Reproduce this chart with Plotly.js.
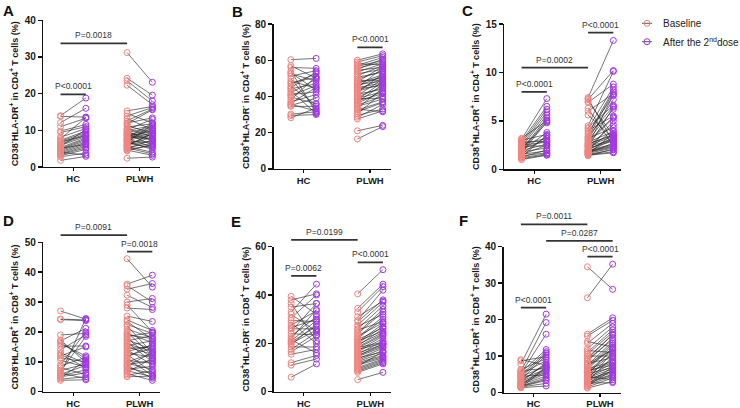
<!DOCTYPE html>
<html>
<head>
<meta charset="utf-8">
<script src="https://cdn.plot.ly/plotly-3.0.1.min.js"></script>
<style>html,body{margin:0;padding:0;background:#fff;}#chart{width:740px;height:408px;}</style>
</head>
<body>
<div id="chart"></div>
<script>
// ---------------- DATA ----------------
const groups = ['HC', 'PLWH'];
const legendLabels = ['Baseline', 'After the 2<sup>nd</sup>dose'];

// Panel A: CD38-HLA-DR+ in CD4+ T cells (%)
const A_HC_baseline = [14.0, 13.8, 12.1, 11.0, 9.8, 9.4, 8.1, 7.7, 7.3, 7.0, 6.6, 6.2, 5.9, 5.6, 5.3, 5.0, 4.8, 4.5, 4.2, 3.9, 3.6, 3.4, 3.1, 2.8, 6.9, 5.1, 4.0, 1.8];
const A_HC_after = [18.8, 13.6, 16.0, 13.3, 11.6, 11.0, 10.5, 13.5, 9.8, 9.4, 9.0, 8.7, 8.3, 10.2, 7.9, 7.6, 7.2, 6.8, 6.4, 6.0, 5.6, 5.2, 4.8, 3.8, 8.5, 6.2, 3.3, 2.9];
const A_PLWH_baseline = [31.2, 24.2, 23.5, 22.3, 15.3, 14.6, 13.9, 13.2, 12.6, 12.0, 11.4, 10.9, 10.4, 10.0, 9.7, 9.4, 9.1, 8.8, 8.5, 8.2, 7.9, 7.7, 7.5, 7.2, 7.0, 6.8, 6.6, 6.3, 6.1, 5.9, 5.6, 5.4, 5.2, 5.0, 4.8, 4.6, 4.4, 2.4, 8.0, 9.0, 11.8, 6.9, 5.8, 7.4, 10.2, 8.6];
const A_PLWH_after = [23.1, 19.6, 18.0, 17.0, 16.5, 12.0, 16.2, 10.2, 15.8, 13.4, 9.0, 11.8, 8.4, 11.2, 7.2, 10.8, 6.0, 10.4, 9.8, 7.6, 12.0, 5.5, 9.4, 8.8, 6.8, 11.5, 5.2, 8.0, 7.0, 9.2, 4.0, 6.4, 3.6, 7.4, 5.8, 3.2, 6.2, 2.7, 10.0, 8.6, 15.6, 4.8, 9.0, 10.6, 13.0, 7.8];
const A_yTicks = [0, 10, 20, 30, 40];
const A_pLabels = ['P<0.0001', 'P=0.0018'];
const A_pFrom = ['HC baseline', 'HC baseline'];
const A_pTo = ['HC after', 'PLWH baseline'];
const A_pY = [19.8, 33.7];

// Panel B: CD38+HLA-DR- in CD4+ T cells (%)
const B_HC_baseline = [60.3, 57.0, 56.0, 54.2, 52.5, 51.2, 49.8, 48.5, 46.8, 45.5, 44.2, 43.0, 42.0, 41.0, 39.6, 38.2, 37.0, 36.2, 35.6, 35.0, 34.5, 30.2, 29.4, 28.2, 47.5, 53.0, 40.5, 44.8];
const B_HC_after = [61.0, 50.0, 55.5, 31.0, 48.5, 54.2, 33.0, 44.5, 52.5, 35.5, 47.0, 30.5, 49.5, 42.5, 36.0, 51.0, 41.0, 45.0, 32.0, 39.0, 34.5, 31.5, 30.0, 33.5, 50.5, 43.5, 46.0, 53.5];
const B_PLWH_baseline = [60.0, 59.0, 58.0, 57.2, 56.5, 55.5, 54.5, 53.5, 52.5, 51.5, 50.5, 49.5, 48.8, 48.0, 47.2, 46.5, 45.8, 45.0, 44.2, 43.5, 42.8, 42.0, 41.2, 40.5, 39.8, 39.0, 38.2, 37.5, 36.8, 36.0, 35.2, 34.5, 33.5, 32.5, 31.5, 30.5, 29.5, 28.5, 27.5, 21.0, 16.5, 55.0, 47.5, 44.8, 38.8, 33.0];
const B_PLWH_after = [63.5, 62.5, 57.5, 61.5, 60.0, 59.0, 56.0, 58.0, 55.0, 57.0, 53.5, 54.0, 49.0, 56.5, 52.0, 48.5, 51.0, 55.5, 46.0, 50.0, 47.0, 52.5, 44.0, 49.5, 45.0, 42.5, 48.0, 41.5, 46.5, 43.0, 40.0, 38.5, 44.5, 37.0, 36.5, 42.0, 33.0, 35.5, 32.0, 24.0, 23.3, 60.5, 50.5, 47.5, 39.0, 31.5];
const B_yTicks = [0, 20, 40, 60, 80];
const B_pLabels = ['P<0.0001'];
const B_pFrom = ['PLWH baseline'];
const B_pTo = ['PLWH after'];
const B_pY = [67.1];

// Panel C: CD38+HLA-DR+ in CD4+ T cells (%)
const C_HC_baseline = [3.2, 3.1, 3.0, 2.9, 2.8, 2.7, 2.6, 2.5, 2.4, 2.3, 2.2, 2.1, 2.0, 1.95, 1.9, 1.85, 1.8, 1.7, 1.6, 1.55, 1.5, 1.4, 1.3, 1.25, 1.2, 1.1, 1.0, 2.5];
const C_HC_after = [5.0, 7.3, 3.6, 6.5, 2.9, 6.2, 3.2, 5.9, 2.4, 5.6, 4.8, 3.0, 5.3, 2.6, 3.8, 5.1, 2.2, 4.9, 3.4, 1.9, 2.5, 1.7, 3.5, 2.0, 1.6, 1.5, 1.45, 2.8];
const C_PLWH_baseline = [7.4, 7.3, 7.2, 7.0, 6.9, 6.3, 6.0, 5.6, 4.5, 4.3, 4.2, 4.0, 3.8, 3.6, 3.4, 3.2, 3.1, 3.0, 2.9, 2.8, 2.7, 2.6, 2.5, 2.45, 2.4, 2.3, 2.2, 2.1, 2.0, 1.95, 1.9, 1.85, 1.8, 1.75, 1.7, 1.65, 1.6, 1.55, 1.5, 1.45, 1.4, 2.35, 2.65, 3.3, 1.8, 2.05];
const C_PLWH_after = [13.3, 2.8, 10.2, 3.5, 8.8, 2.4, 7.8, 3.2, 10.1, 6.6, 8.5, 5.5, 7.6, 8.2, 6.5, 4.3, 7.2, 6.2, 5.4, 3.9, 5.3, 3.6, 7.7, 3.4, 3.0, 6.4, 2.9, 4.0, 3.3, 2.6, 5.0, 2.5, 3.1, 2.3, 2.7, 2.2, 3.7, 2.0, 1.8, 1.7, 2.1, 4.6, 3.5, 8.0, 2.4, 3.2];
const C_yTicks = [0, 5, 10, 15];
const C_pLabels = ['P<0.0001', 'P=0.0002', 'P<0.0001'];
const C_pFrom = ['HC baseline', 'HC baseline', 'PLWH baseline'];
const C_pTo = ['HC after', 'PLWH baseline', 'PLWH after'];
const C_pY = [8.0, 10.5, 14.1];

// Panel D: CD38-HLA-DR+ in CD8+ T cells (%)
const D_HC_baseline = [27.0, 24.3, 24.1, 19.0, 17.3, 17.0, 16.5, 15.2, 14.0, 13.0, 12.0, 11.3, 10.5, 9.0, 8.6, 8.0, 7.2, 6.8, 6.3, 5.8, 5.3, 5.0, 4.6, 4.2, 3.8, 12.6, 16.0, 6.0];
const D_HC_after = [24.3, 24.0, 23.8, 19.5, 9.8, 21.2, 11.0, 15.3, 19.0, 9.5, 15.0, 10.0, 8.3, 20.0, 11.5, 5.8, 9.2, 18.5, 4.4, 8.8, 7.3, 6.3, 10.5, 5.0, 4.0, 8.0, 12.0, 24.5];
const D_PLWH_baseline = [44.5, 36.0, 35.5, 34.3, 32.3, 30.0, 29.0, 28.0, 25.3, 23.5, 22.5, 22.0, 21.0, 20.0, 19.5, 18.5, 18.0, 17.5, 17.0, 16.5, 16.0, 15.5, 15.0, 14.0, 13.5, 13.0, 12.5, 12.0, 11.5, 11.0, 10.5, 10.0, 9.5, 9.0, 8.8, 8.5, 8.0, 7.5, 7.0, 6.5, 6.0, 5.5, 5.0, 14.5, 19.0, 24.0];
const D_PLWH_after = [35.0, 39.0, 30.0, 36.2, 28.2, 31.2, 20.0, 27.5, 23.5, 17.5, 19.5, 13.0, 18.0, 12.0, 16.5, 19.8, 11.0, 14.0, 18.8, 10.0, 13.5, 17.0, 12.5, 9.0, 15.5, 11.5, 6.5, 14.5, 16.0, 5.5, 9.5, 12.8, 7.5, 10.5, 4.5, 13.2, 6.0, 8.5, 5.0, 11.2, 3.8, 7.0, 5.2, 15.0, 17.8, 20.5];
const D_yTicks = [0, 10, 20, 30, 40, 50];
const D_pLabels = ['P=0.0091', 'P=0.0018'];
const D_pFrom = ['HC baseline', 'PLWH baseline'];
const D_pTo = ['PLWH baseline', 'PLWH after'];
const D_pY = [52.4, 46.9];

// Panel E: CD38+HLA-DR- in CD8+ T cells (%)
const E_HC_baseline = [39.5, 38.0, 36.5, 35.0, 33.0, 32.0, 30.5, 29.5, 28.5, 27.5, 26.5, 25.0, 24.0, 23.0, 22.0, 21.5, 21.0, 20.5, 20.0, 19.5, 18.5, 17.5, 16.5, 15.5, 12.0, 11.0, 6.0, 26.0];
const E_HC_after = [32.0, 40.5, 21.0, 36.5, 44.5, 25.0, 40.0, 29.0, 20.0, 33.5, 30.0, 36.5, 23.5, 31.0, 34.0, 16.0, 29.5, 27.0, 25.5, 28.0, 18.5, 24.5, 23.0, 17.5, 15.0, 13.5, 11.5, 26.0];
const E_PLWH_baseline = [40.5, 34.5, 33.0, 31.0, 29.5, 29.0, 27.5, 26.0, 25.5, 24.5, 24.0, 23.0, 22.5, 22.0, 21.0, 20.5, 20.0, 19.5, 19.0, 18.5, 18.0, 17.5, 17.0, 16.5, 16.0, 15.5, 15.0, 14.5, 14.0, 13.5, 13.0, 12.5, 12.0, 11.5, 11.0, 10.5, 10.0, 9.5, 9.0, 8.5, 8.0, 5.0, 27.0, 21.5, 18.2, 14.8];
const E_PLWH_after = [50.5, 44.5, 43.5, 37.5, 42.0, 38.0, 37.0, 35.5, 29.0, 34.0, 33.0, 28.5, 31.0, 30.0, 25.0, 28.0, 27.0, 24.5, 26.0, 24.0, 23.5, 20.0, 23.0, 22.0, 19.5, 21.0, 19.0, 18.5, 16.5, 18.0, 17.0, 16.0, 15.0, 14.5, 14.0, 16.5, 13.5, 13.0, 12.5, 12.0, 11.5, 8.0, 32.0, 26.5, 20.5, 19.8];
const E_yTicks = [0, 20, 40, 60];
const E_pLabels = ['P=0.0199', 'P=0.0062', 'P<0.0001'];
const E_pFrom = ['HC baseline', 'HC baseline', 'PLWH baseline'];
const E_pTo = ['PLWH baseline', 'HC after', 'PLWH after'];
const E_pY = [62.8, 47.9, 53.5];

// Panel F: CD38+HLA-DR+ in CD8+ T cells (%)
const F_HC_baseline = [9.0, 8.7, 7.8, 6.0, 5.7, 5.5, 5.2, 5.0, 4.7, 4.4, 4.1, 3.8, 3.5, 3.2, 3.0, 2.8, 2.6, 2.4, 2.2, 2.0, 1.8, 1.7, 1.6, 1.5, 1.4, 1.3, 6.3, 4.5];
const F_HC_after = [7.5, 9.8, 21.5, 6.6, 19.2, 11.8, 16.0, 8.8, 11.2, 7.2, 10.8, 6.3, 10.3, 7.8, 6.0, 8.2, 5.7, 5.2, 4.5, 7.0, 4.0, 3.6, 3.3, 2.5, 6.8, 1.8, 9.3, 4.8];
const F_PLWH_baseline = [34.5, 26.0, 16.0, 15.5, 14.0, 13.5, 12.0, 11.5, 11.0, 10.5, 10.0, 9.5, 9.0, 8.5, 8.0, 7.5, 7.0, 6.8, 6.5, 6.2, 6.0, 5.7, 5.5, 5.2, 5.0, 4.8, 4.5, 4.2, 4.0, 3.8, 3.5, 3.2, 3.0, 2.8, 2.5, 2.2, 2.0, 1.8, 1.5, 1.2, 3.6, 7.8, 9.2, 5.8, 4.4, 2.6];
const F_PLWH_after = [28.3, 35.2, 20.5, 19.8, 12.5, 19.0, 18.0, 11.0, 17.2, 16.5, 10.0, 15.8, 14.5, 15.0, 9.5, 14.0, 12.0, 13.5, 8.5, 13.0, 7.5, 11.5, 10.5, 6.8, 9.0, 12.2, 8.0, 7.2, 6.5, 10.8, 6.0, 5.5, 9.8, 5.0, 4.8, 7.0, 4.5, 6.2, 4.0, 3.0, 5.8, 11.8, 16.0, 8.2, 3.5, 2.7];
const F_yTicks = [0, 10, 20, 30, 40];
const F_pLabels = ['P=0.0011', 'P=0.0287', 'P<0.0001', 'P<0.0001'];
const F_pFrom = ['HC baseline', 'HC after', 'PLWH baseline', 'HC baseline'];
const F_pTo = ['PLWH baseline', 'PLWH after', 'PLWH after', 'HC after'];
const F_pY = [46.1, 41.6, 37.3, 23.3];

const yTitles = [
  'CD38<sup>-</sup>HLA-DR<sup>+</sup> in CD4<sup>+</sup> T cells (%)',
  'CD38<sup>+</sup>HLA-DR<sup>-</sup> in CD4<sup>+</sup> T cells (%)',
  'CD38<sup>+</sup>HLA-DR<sup>+</sup> in CD4<sup>+</sup> T cells (%)',
  'CD38<sup>-</sup>HLA-DR<sup>+</sup> in CD8<sup>+</sup> T cells (%)',
  'CD38<sup>+</sup>HLA-DR<sup>-</sup> in CD8<sup>+</sup> T cells (%)',
  'CD38<sup>+</sup>HLA-DR<sup>+</sup> in CD8<sup>+</sup> T cells (%)'
];
const panelLetters = ['A', 'B', 'C', 'D', 'E', 'F'];

// ---------------- STYLE / LAYOUT ----------------
const W = 740, H = 408;
const FONT = 'Liberation Sans, Arial, Helvetica, sans-serif';
const COL_BASE = '#f0857f';
const COL_AFTER = '#a434e8';
const COL_LINK = '#2a2a2a';
const OFF = 0.19;            // half distance between paired columns (x units)
const XRANGE = [0.549, 2.308];

// pixel boxes per panel: [left, right, top, bottom]
const boxes = [
  [43.2, 160.2, 20.3, 167.0],
  [273.5, 390.5, 24.0, 168.8],
  [504.2, 621.2, 24.0, 169.3],
  [43.2, 160.2, 242.3, 391.7],
  [273.8, 390.8, 246.7, 391.7],
  [503.5, 620.5, 246.7, 392.5]
];
const letterPos = [[8, 10], [237, 11], [467, 10], [8, 221], [236, 222], [463, 221]];

const panelData = [
  [A_HC_baseline, A_HC_after, A_PLWH_baseline, A_PLWH_after, A_yTicks, A_pLabels, A_pFrom, A_pTo, A_pY],
  [B_HC_baseline, B_HC_after, B_PLWH_baseline, B_PLWH_after, B_yTicks, B_pLabels, B_pFrom, B_pTo, B_pY],
  [C_HC_baseline, C_HC_after, C_PLWH_baseline, C_PLWH_after, C_yTicks, C_pLabels, C_pFrom, C_pTo, C_pY],
  [D_HC_baseline, D_HC_after, D_PLWH_baseline, D_PLWH_after, D_yTicks, D_pLabels, D_pFrom, D_pTo, D_pY],
  [E_HC_baseline, E_HC_after, E_PLWH_baseline, E_PLWH_after, E_yTicks, E_pLabels, E_pFrom, E_pTo, E_pY],
  [F_HC_baseline, F_HC_after, F_PLWH_baseline, F_PLWH_after, F_yTicks, F_pLabels, F_pFrom, F_pTo, F_pY]
];

function colX(key) {
  const [g, t] = key.split(' ');
  const c = groups.indexOf(g) + 1;
  return t === 'baseline' ? c - OFF : c + OFF;
}

const traces = [];
const shapes = [];
const annotations = [];
const layout = {
  width: W, height: H,
  margin: {l: 0, r: 0, t: 0, b: 0},
  paper_bgcolor: '#fff', plot_bgcolor: 'rgba(0,0,0,0)',
  showlegend: false,
  font: {family: FONT, color: '#1a1a1a'},
  shapes: shapes, annotations: annotations
};

panelData.forEach((pd, i) => {
  const [hcB, hcA, plB, plA, yTicks, pLab, pFrom, pTo, pY] = pd;
  const n = i === 0 ? '' : String(i + 1);
  const xa = 'x' + n, ya = 'y' + n;
  const yMax = yTicks[yTicks.length - 1];
  const box = boxes[i];

  // connecting lines
  const lx = [], ly = [];
  [[hcB, hcA, 1], [plB, plA, 2]].forEach(([b, a, c]) => {
    b.forEach((v, k) => { lx.push(c - OFF, c + OFF, null); ly.push(v, a[k], null); });
  });
  traces.push({type: 'scatter', mode: 'lines', x: lx, y: ly, xaxis: xa, yaxis: ya,
    line: {color: COL_LINK, width: 0.65}, hoverinfo: 'skip'});

  // baseline markers
  traces.push({type: 'scatter', mode: 'markers', xaxis: xa, yaxis: ya, cliponaxis: false,
    x: hcB.map(() => 1 - OFF).concat(plB.map(() => 2 - OFF)), y: hcB.concat(plB),
    marker: {symbol: 'circle-open', size: 6, color: COL_BASE, line: {width: 1, color: COL_BASE}}});
  // after markers
  traces.push({type: 'scatter', mode: 'markers', xaxis: xa, yaxis: ya, cliponaxis: false,
    x: hcA.map(() => 1 + OFF).concat(plA.map(() => 2 + OFF)), y: hcA.concat(plA),
    marker: {symbol: 'circle-open', size: 6, color: COL_AFTER, line: {width: 1, color: COL_AFTER}}});

  layout['xaxis' + n] = {
    domain: [box[0] / W, box[1] / W], range: XRANGE, anchor: ya,
    tickvals: [1, 2], ticktext: groups, showline: true, linecolor: '#111', linewidth: 1.4,
    ticks: 'outside', ticklen: 3, tickwidth: 1.4, tickcolor: '#111', ticklabelstandoff: -1,
    tickfont: {family: FONT, size: 9.5, weight: 'bold', color: '#1a1a1a'},
    showgrid: false, zeroline: false, fixedrange: true
  };
  layout['yaxis' + n] = {
    domain: [1 - box[3] / H, 1 - box[2] / H], range: [0, yMax], anchor: xa,
    tickvals: yTicks, showline: true, linecolor: '#111', linewidth: 1.4,
    ticks: 'outside', ticklen: 4, tickwidth: 1.4, tickcolor: '#111',
    tickfont: {family: FONT, size: 10, weight: 'bold', color: '#1a1a1a'},
    showgrid: false, zeroline: false, fixedrange: true,
    title: {text: yTitles[i], standoff: 4, font: {family: FONT, size: 9, weight: 'bold', color: '#1a1a1a'}}
  };

  pLab.forEach((lab, k) => {
    const x0 = colX(pFrom[k]), x1 = colX(pTo[k]);
    const frac = pY[k] / yMax;
    shapes.push({type: 'line', xref: xa, yref: ya + ' domain', x0: x0, x1: x1,
      y0: frac, y1: frac, line: {color: '#333', width: 1.8}});
    annotations.push({xref: xa, yref: ya + ' domain', x: (x0 + x1) / 2, y: frac, yanchor: 'bottom', xanchor: 'center',
      text: lab, showarrow: false, yshift: 1, font: {family: FONT, size: 8.5, color: '#333'}});
  });

  annotations.push({xref: 'paper', yref: 'paper', x: letterPos[i][0] / W, y: 1 - letterPos[i][1] / H,
    xanchor: 'center', yanchor: 'middle', text: '<b>' + panelLetters[i] + '</b>', showarrow: false,
    font: {family: FONT, size: 15, color: '#111'}});
});

// ---------- custom legend (hidden axis x7/y7, pixel units) ----------
const legX = [642, 652], legMarkX = 647, legTextX = 661, legRowY = [23.3, 41.7];
const legColors = [COL_BASE, COL_AFTER];
layout.xaxis7 = {domain: [630 / W, 1], range: [630, 740], visible: false, anchor: 'y7', fixedrange: true};
layout.yaxis7 = {domain: [1 - 60 / H, 1], range: [60, 0], visible: false, anchor: 'x7', fixedrange: true};
legendLabels.forEach((lab, k) => {
  traces.push({type: 'scatter', mode: 'lines', xaxis: 'x7', yaxis: 'y7', x: legX, y: [legRowY[k], legRowY[k]],
    line: {color: COL_LINK, width: 0.8}, hoverinfo: 'skip'});
  traces.push({type: 'scatter', mode: 'markers', xaxis: 'x7', yaxis: 'y7', x: [legMarkX], y: [legRowY[k]],
    marker: {symbol: 'circle-open', size: 6, color: legColors[k], line: {width: 1, color: legColors[k]}}, hoverinfo: 'skip'});
  annotations.push({xref: 'x7', yref: 'y7', x: legTextX, y: legRowY[k], xanchor: 'left', yanchor: 'middle',
    text: lab, showarrow: false, font: {family: FONT, size: 10, color: '#222'}});
});

Plotly.newPlot('chart', traces, layout, {displayModeBar: false, staticPlot: true});
</script>
</body>
</html>
